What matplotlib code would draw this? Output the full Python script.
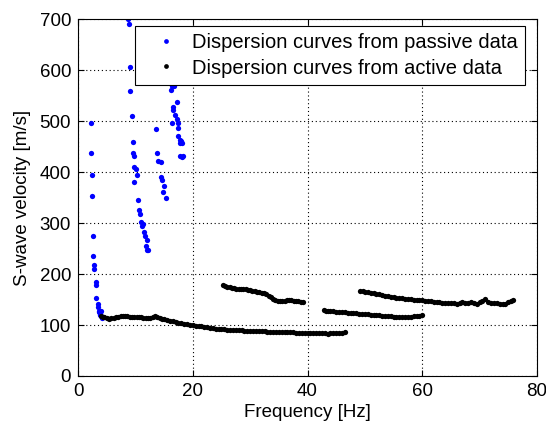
import numpy as np
import matplotlib
matplotlib.use('Agg')
import matplotlib.pyplot as plt

plt.rcParams['font.family'] = ['Liberation Sans', 'DejaVu Sans']

# passive data (blue), frequency [Hz] and velocity [m/s]
passive_f = [2.19, 2.3, 2.44, 2.44, 2.62, 2.62, 2.8, 2.8, 3.05, 3.2, 3.2, 3.4, 3.5, 3.66, 3.7, 3.84, 3.9, 4.0, 4.0, 4.1, 4.2,
             8.7, 8.9, 9.1, 9.0, 9.4, 9.5, 9.6, 9.75, 9.8, 10.1, 9.8, 10.2, 10.5, 10.7, 10.8, 11.0, 11.2, 11.3, 11.5, 11.6,
             12.0, 11.8, 12.1, 12.2,
             13.5, 13.8, 13.9, 14.4, 14.5, 14.6, 14.8, 15.0, 15.4,
             16.2, 16.45, 16.8, 16.6, 16.5, 16.9, 17.2, 17.2, 17.4, 16.45, 17.4, 17.5, 17.7, 17.85, 18.0, 18.2, 17.7,
             18.2, 18.35]
passive_v = [497, 437, 394, 354, 274, 236, 218, 210, 185, 178, 154, 141, 135, 128, 125, 123, 120, 118, 128, 115, 113,
             700, 691, 607, 560, 510, 459, 437, 431, 411, 407, 380, 395, 346, 325, 318, 302, 295, 298, 282, 274,
             266, 256, 247, 247,
             484, 437, 423, 421, 390, 384, 361, 373, 350,
             561, 569, 569, 528, 523, 512, 538, 505, 497, 497, 486, 472, 464, 457, 461, 457, 432,
             430, 431]

# active data (black), four branches
active_f1 = [4.0, 4.3, 4.6, 5.0, 5.4, 5.8, 6.2, 6.6, 7.0, 7.4, 7.8, 8.2, 8.6, 9.0, 9.4, 9.8, 10.2, 10.6, 11.0, 11.4,
             11.8, 12.2, 12.6, 13.0, 13.4, 13.8, 14.2, 14.6, 15.0, 15.5, 16.0, 16.5, 17.0, 17.5, 18.0, 18.5, 19.0,
             19.5, 20.0, 20.5, 21.0, 21.5, 22.0, 22.5, 23.0, 23.5, 24.0, 24.5, 25.0, 25.5, 26.0, 26.5, 27.0, 27.5,
             28.0, 28.5, 29.0, 29.5, 30.0, 30.5, 31.0, 31.5, 32.0, 32.5, 33.0, 33.5, 34.0, 34.5, 35.0, 35.5, 36.0,
             36.5, 37.0, 37.5, 38.0, 38.5, 39.0, 39.5, 40.0, 40.5, 41.0, 41.5, 42.0, 42.5, 43.0, 43.5, 44.0, 44.5,
             45.0, 45.5, 46.0, 46.5]
active_v1 = [118, 116, 115, 113, 112, 113, 114, 115, 116, 117, 117, 117, 117, 116, 116, 116, 116, 116, 115, 114,
             113, 113, 114, 116, 118, 116, 114, 112, 111, 109, 108, 107, 106, 105, 104, 103, 102,
             101, 100, 99, 99, 98, 97, 96, 95, 94, 93, 93, 92, 92, 91, 91, 91, 90,
             90, 90, 89, 89, 89, 89, 88, 88, 88, 88, 87, 87, 87, 87, 87, 87, 86,
             86, 86, 86, 85, 85, 85, 85, 85, 85, 85, 85, 85, 85, 84, 83, 84, 85,
             85, 85, 85, 86]

active_f2 = [25.2, 25.6, 26.0, 26.4, 26.8, 27.2, 27.6, 28.0, 28.4, 28.8, 29.2, 29.6, 30.0, 30.4, 30.8, 31.2, 31.6,
             32.0, 32.4, 32.8, 33.2, 33.6, 34.0, 34.4, 34.8, 35.2, 35.6, 36.0, 36.4, 36.8, 37.2, 37.6, 38.0, 38.4,
             38.8, 39.2]
active_v2 = [179, 177, 175, 174, 173, 172, 171, 171, 171, 170, 170, 169, 168, 167, 166, 165, 164,
             163, 162, 160, 158, 155, 152, 150, 148, 148, 148, 148, 149, 150, 149, 148, 148, 147,
             146, 145]

active_f3 = [42.8, 43.2, 43.6, 44.0, 44.5, 45.0, 45.5, 46.0, 46.5, 47.0, 47.5, 48.0, 48.5, 49.0, 49.5, 50.0, 50.5,
             51.0, 51.5, 52.0, 52.5, 53.0, 53.5, 54.0, 54.5, 55.0, 55.5, 56.0, 56.5, 57.0, 57.5, 58.0, 58.5, 59.0,
             59.5, 60.0]
active_v3 = [129, 128, 128, 127, 127, 126, 126, 125, 125, 124, 124, 123, 123, 122, 122, 121, 121,
             120, 120, 119, 119, 118, 118, 117, 117, 116, 116, 115, 115, 115, 116, 116, 117, 117,
             118, 120]

active_f4 = [49.2, 49.6, 50.0, 50.5, 51.0, 51.5, 52.0, 52.5, 53.0, 53.5, 54.0, 54.5, 55.0, 55.5, 56.0, 56.5, 57.0,
             57.5, 58.0, 58.5, 59.0, 59.5, 60.0, 60.5, 61.0, 61.5, 62.0, 62.5, 63.0, 63.5, 64.0, 64.5, 65.0, 65.5,
             66.0, 66.5, 67.0, 67.5, 68.0, 68.5, 69.0, 69.5, 70.0, 70.5, 71.0, 71.5, 72.0, 72.5, 73.0, 73.5, 74.0,
             74.5, 75.0, 75.5, 75.8]
active_v4 = [167, 166, 165, 164, 163, 162, 161, 160, 159, 158, 157, 156, 155, 154, 154, 153, 152,
             152, 151, 150, 150, 149, 149, 148, 148, 147, 146, 146, 145, 144, 144, 143, 143, 143,
             142, 144, 146, 144, 144, 145, 143, 141, 145, 148, 152, 146, 143, 143, 143, 142, 142,
             141, 145, 148, 150]

fig = plt.figure(figsize=(5.46, 4.26), dpi=100)
ax = fig.add_axes([0.143, 0.1174, 0.8405, 0.837])

ax.plot(passive_f, passive_v, 'o', color='#0000ff', markersize=3.8, markeredgewidth=0,
        label='Dispersion curves from passive data')
first = True
for f, v in [(active_f1, active_v1), (active_f2, active_v2), (active_f3, active_v3), (active_f4, active_v4)]:
    ax.plot(f, v, 'o', color='black', markersize=3.8, markeredgewidth=0,
            label='Dispersion curves from active data' if first else None)
    first = False

ax.set_xlim(0, 80)
ax.set_ylim(0, 700)
ax.set_xticks(np.arange(0, 81, 20))
ax.set_yticks(np.arange(0, 701, 100))
ax.grid(True, linestyle=(0, (1, 2.5)), color='black', linewidth=0.8)
ax.tick_params(direction='in', top=True, right=True, labelsize=13.5, length=4, pad=5)
ax.set_xlabel('Frequency [Hz]', fontsize=13.5, labelpad=3)
ax.set_ylabel('S-wave velocity [m/s]', fontsize=13.5, labelpad=6)

leg = ax.legend(loc='upper right', bbox_to_anchor=(0.974, 0.982), borderaxespad=0, fontsize=14.5,
                fancybox=False, framealpha=1, edgecolor='black', handletextpad=0.1, markerscale=0.9,
                borderpad=0.35, labelspacing=0.33, handlelength=2.4)
leg.get_frame().set_linewidth(0.8)

fig.savefig('out.png', dpi=100)
